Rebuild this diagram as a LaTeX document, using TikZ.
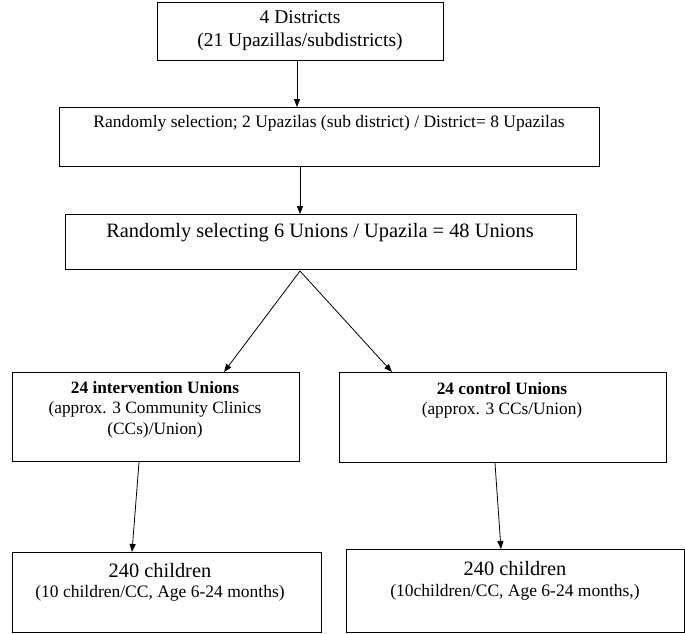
\documentclass[tikz,border=0pt]{standalone}
\usepackage{fontspec}
\setmainfont{Liberation Serif}
\usetikzlibrary{arrows.meta}
\begin{document}
\begin{tikzpicture}[x=1pt,y=-1pt,
  box/.style={draw,line width=1.2pt,inner sep=0pt,anchor=north west},
  arr/.style={-{Triangle[length=8pt,width=6pt]},line width=0.8pt},
  txt/.style={align=center,inner sep=0pt},
  bigt/.style={txt,font=\fontsize{20.4}{24}\selectfont},
  smt/.style={txt,font=\fontsize{17.5}{21}\selectfont}]
\useasboundingbox (0,0) rectangle (685,633);
\node[box,minimum width=286pt,minimum height=58pt] (b1) at (157,2) {};
\node[txt,font=\fontsize{19.5}{23}\selectfont] (t1) at (300,31) {4 Districts\\(21 Upazillas/subdistricts)};
\node[box,minimum width=540pt,minimum height=59pt] (b2) at (59,107) {};
\node[smt] (t2) at (329,123) {Randomly selection; 2 Upazilas (sub district) / District= 8 Upazilas};
\node[box,minimum width=511pt,minimum height=55pt] (b3) at (65,214) {};
\node[bigt] (t3) at (320,233) {Randomly selecting 6 Unions / Upazila = 48 Unions};
\node[box,minimum width=287pt,minimum height=89pt] (b4) at (12,372) {};
\node[txt,font=\fontsize{17.3}{20.5}\selectfont,anchor=north] (t4) at (155,381) {\textbf{24 intervention Unions}\\(approx. 3 Community Clinics\\(CCs)/Union)};
\node[box,minimum width=327pt,minimum height=90pt] (b5) at (339,372) {};
\node[txt,font=\fontsize{17.3}{20.5}\selectfont,anchor=north] (t5) at (502,382) {\textbf{24 control Unions}\\(approx. 3 CCs/Union)};
\node[box,minimum width=309pt,minimum height=80pt] (b6) at (12,552) {};
\node[bigt] (t6a) at (160,571) {240 children};
\node[smt] (t6b) at (160,593) {(10 children/CC, Age 6-24 months)};
\node[box,minimum width=338pt,minimum height=83pt] (b7) at (346,549) {};
\node[bigt] (t7a) at (515,569) {240 children};
\node[smt] (t7b) at (515,592) {(10children/CC, Age 6-24 months,)};
\draw[arr] (b1.south -| 297,0) -- (b2.north -| 297,0);
\draw[arr] (b2.south -| 300,0) -- (b3.north -| 300,0);
\coordinate (apex) at (300,271);
\draw[arr] (apex) -- (b4.north -| 224,0);
\draw[arr] (apex) -- (b5.north -| 392,0);
\draw[arr] (b4.south -| 139,0) -- (b6.north -| 132,0);
\draw[arr] (b5.south -| 495,0) -- (b7.north -| 501,0);
\end{tikzpicture}
\end{document}
